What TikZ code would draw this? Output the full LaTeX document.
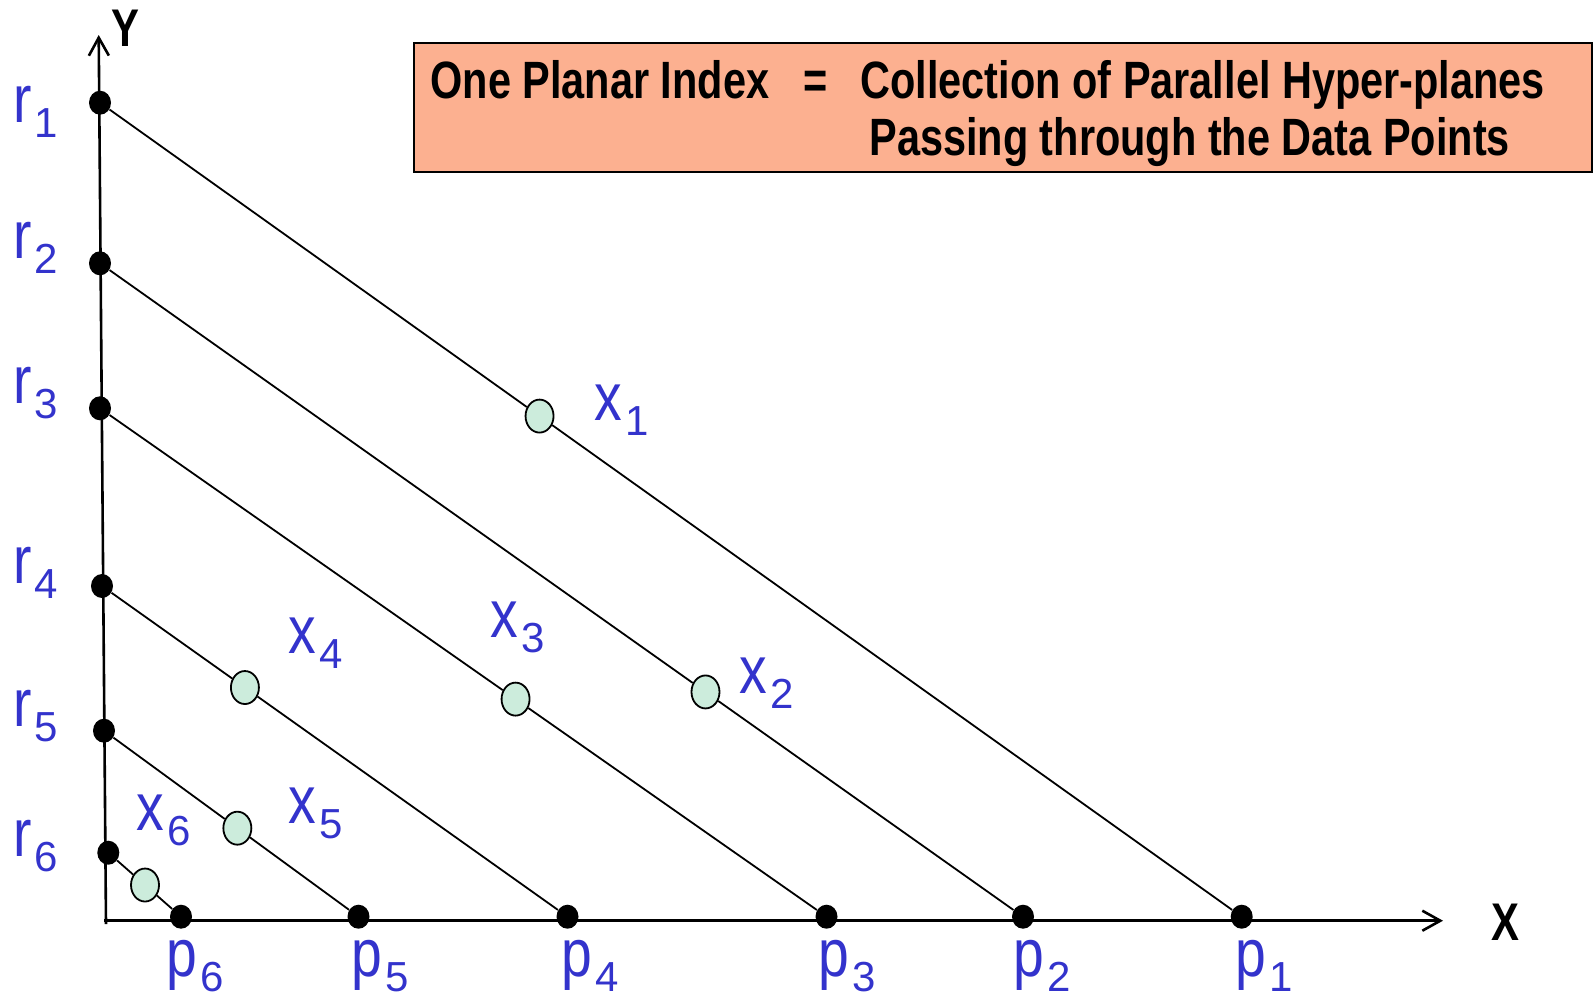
\documentclass[tikz,border=0pt]{standalone}
\usepackage{fontspec}
\usetikzlibrary{shapes.geometric,arrows.meta,calc}
\newfontfamily\titlefont[FakeStretch=0.79]{Liberation Sans}
\newfontfamily\lblfont[FakeStretch=0.82]{Liberation Sans}
\newfontfamily\subfont{Liberation Sans}
\definecolor{lblblue}{RGB}{51,51,204}
\definecolor{salmon}{RGB}{252,176,144}
\definecolor{mint}{RGB}{204,236,220}
\newcommand{\lbl}[2]{{\lblfont\fontsize{33.7pt}{34pt}\selectfont #1\kern1.5pt\raisebox{-7.5pt}{\subfont\fontsize{21pt}{21pt}\selectfont #2}}}
\begin{document}
\begin{tikzpicture}[x=0.5pt,y=-0.5pt,
  dot/.style={ellipse,fill=black,inner sep=0pt,minimum width=11pt,minimum height=12pt},
  datapt/.style={ellipse,draw=black,line width=0.9pt,fill=mint,inner sep=0pt,minimum width=14pt,minimum height=16.5pt},
  plane/.style={line width=0.9pt},
  axis/.style={line width=1.3pt,-{Straight Barb[length=9pt,width=10pt,line width=1.3pt]}},
  lab/.style={text=lblblue,inner sep=0pt,anchor=base west},
  axlab/.style={inner sep=0pt,font=\titlefont\bfseries\fontsize{26.5pt}{27pt}\selectfont},
  ttl/.style={inner sep=0pt,anchor=base west,font=\titlefont\bfseries\fontsize{26.25pt}{27pt}\selectfont}]
\useasboundingbox (0,0) rectangle (1594,996);

% title box
\node[draw=black,line width=1.1pt,fill=salmon,inner sep=0pt,minimum width=589.15pt,minimum height=64.55pt,anchor=north west] (box) at (412.7,41.7) {};
\node[ttl] (t1) at (430,98.6) {One Planar Index};
\node[ttl,anchor=base] (teq) at (816,98.6) {=};
\node[ttl] (t2) at (860,98.6) {Collection of Parallel Hyper-planes};
\node[ttl] (t3) at (869,155.5) {Passing through the Data Points};

% axes
\coordinate (yb) at (106,924);
\coordinate (ytip) at (98.7,35);
\coordinate (xb) at (104,920.7);
\coordinate (xtip) at (1443,920.7);
\draw[axis] (yb) -- (ytip);
\draw[axis] (xb) -- (xtip);
\node[axlab] (Y) at (125,28.3) {Y};
\node[axlab] (X) at (1505,922.5) {X};

% dots on axes
\node[dot] (r1) at (100,102.7) {};
\node[dot] (r2) at (100,263.3) {};
\node[dot] (r3) at (100,408.3) {};
\node[dot] (r4) at (102,586) {};
\node[dot] (r5) at (104,730.7) {};
\node[dot] (r6) at (108.3,852.7) {};
\node[dot] (p1) at (1241.7,916.7) {};
\node[dot] (p2) at (1023,916.7) {};
\node[dot] (p3) at (826.5,916.7) {};
\node[dot] (p4) at (567.5,916.7) {};
\node[dot] (p5) at (358.5,916.7) {};
\node[dot] (p6) at (181,916.7) {};

% data points
\node[datapt] (x1) at ($(r1)!0.385!(p1)$) {};
\node[datapt] (x2) at ($(r2)!0.656!(p2)$) {};
\node[datapt] (x3) at ($(r3)!0.572!(p3)$) {};
\node[datapt] (x4) at ($(r4)!0.307!(p4)$) {};
\node[datapt] (x5) at ($(r5)!0.524!(p5)$) {};
\node[datapt] (x6) at ($(r6)!0.505!(p6)$) {};

% hyper-planes
\draw[plane] (r1) -- (x1) -- (p1);
\draw[plane] (r2) -- (x2) -- (p2);
\draw[plane] (r3) -- (x3) -- (p3);
\draw[plane] (r4) -- (x4) -- (p4);
\draw[plane] (r5) -- (x5) -- (p5);
\draw[plane] (r6) -- (x6) -- (p6);

% labels
\node[lab] (lr1) at (13,122) {\lbl{r}{1}};
\node[lab] (lr2) at (13,258) {\lbl{r}{2}};
\node[lab] (lr3) at (13,403.3) {\lbl{r}{3}};
\node[lab] (lr4) at (13,583) {\lbl{r}{4}};
\node[lab] (lr5) at (13,726.7) {\lbl{r}{5}};
\node[lab] (lr6) at (13,856.7) {\lbl{r}{6}};
\node[lab] (lx1) at (594,420) {\lbl{x}{1}};
\node[lab] (lx2) at (739,693.3) {\lbl{x}{2}};
\node[lab] (lx3) at (490,637.3) {\lbl{x}{3}};
\node[lab] (lx4) at (288.5,653.3) {\lbl{x}{4}};
\node[lab] (lx5) at (288.5,823.3) {\lbl{x}{5}};
\node[lab] (lx6) at (136,830) {\lbl{x}{6}};
\node[lab] (lp1) at (1235,976.7) {\lbl{p}{1}};
\node[lab] (lp2) at (1013,976.7) {\lbl{p}{2}};
\node[lab] (lp3) at (818,976.7) {\lbl{p}{3}};
\node[lab] (lp4) at (561,976.7) {\lbl{p}{4}};
\node[lab] (lp5) at (351,976.7) {\lbl{p}{5}};
\node[lab] (lp6) at (166,976.7) {\lbl{p}{6}};
\end{tikzpicture}
\end{document}
